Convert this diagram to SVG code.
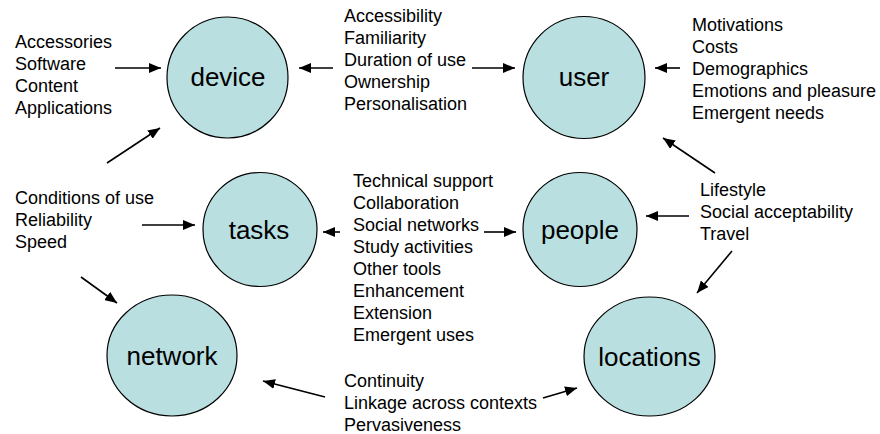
<svg xmlns="http://www.w3.org/2000/svg" width="880" height="434" viewBox="0 0 880 434">
<style>
.node{fill:#b9dfe1;stroke:#000;stroke-width:1.2}
.lbl{font-family:"Liberation Sans",Arial,sans-serif;font-size:26px;fill:#000;text-anchor:middle}
.t{font-family:"Liberation Sans",Arial,sans-serif;font-size:18px;fill:#000}
.c{stroke:#000;stroke-width:1.6;fill:none;marker-end:url(#ah)}
</style>
<defs>
<marker id="ah" markerUnits="userSpaceOnUse" markerWidth="12" markerHeight="10" viewBox="0 0 12 10" refX="12" refY="5" orient="auto">
<path d="M0,0 L12,5 L0,10 Z" fill="#000"/>
</marker>
</defs>
<rect width="880" height="434" fill="#fff"/>
<g id="device"><circle class="node" cx="227.5" cy="77.5" r="60.5"/><text class="lbl" x="228" y="86">device</text></g>
<g id="user"><circle class="node" cx="584" cy="77.5" r="61"/><text class="lbl" x="584" y="86">user</text></g>
<g id="tasks"><circle class="node" cx="260" cy="229.5" r="57"/><text class="lbl" x="259" y="239">tasks</text></g>
<g id="people"><circle class="node" cx="580" cy="229.5" r="57"/><text class="lbl" x="580" y="239">people</text></g>
<g id="network"><ellipse class="node" cx="172" cy="355.5" rx="65" ry="60.5"/><text class="lbl" x="172" y="365">network</text></g>
<g id="locations"><ellipse class="node" cx="649.5" cy="356.5" rx="65.5" ry="59.5"/><text class="lbl" x="649.5" y="366">locations</text></g>
<g id="labels">
<text class="t" x="15" y="48">Accessories</text>
<text class="t" x="15" y="70">Software</text>
<text class="t" x="15" y="92">Content</text>
<text class="t" x="15" y="114">Applications</text>
<text class="t" x="344" y="22">Accessibility</text>
<text class="t" x="344" y="44">Familiarity</text>
<text class="t" x="344" y="66">Duration of use</text>
<text class="t" x="344" y="88">Ownership</text>
<text class="t" x="344" y="110">Personalisation</text>
<text class="t" x="692" y="31">Motivations</text>
<text class="t" x="692" y="53">Costs</text>
<text class="t" x="692" y="75">Demographics</text>
<text class="t" x="692" y="97">Emotions and pleasure</text>
<text class="t" x="692" y="119">Emergent needs</text>
<text class="t" x="15" y="204">Conditions of use</text>
<text class="t" x="15" y="226">Reliability</text>
<text class="t" x="15" y="248">Speed</text>
<text class="t" x="353" y="187">Technical support</text>
<text class="t" x="353" y="209">Collaboration</text>
<text class="t" x="353" y="231">Social networks</text>
<text class="t" x="353" y="253">Study activities</text>
<text class="t" x="353" y="275">Other tools</text>
<text class="t" x="353" y="297">Enhancement</text>
<text class="t" x="353" y="319">Extension</text>
<text class="t" x="353" y="341">Emergent uses</text>
<text class="t" x="700" y="196">Lifestyle</text>
<text class="t" x="700" y="218">Social acceptability</text>
<text class="t" x="700" y="240">Travel</text>
<text class="t" x="344" y="387">Continuity</text>
<text class="t" x="344" y="409">Linkage across contexts</text>
<text class="t" x="344" y="431">Pervasiveness</text>
</g>
<g id="connectors">
<line class="c" x1="115" y1="68" x2="161" y2="68"/>
<line class="c" x1="107" y1="163" x2="160" y2="128"/>
<line class="c" x1="142" y1="225" x2="195" y2="225"/>
<line class="c" x1="81" y1="277" x2="117" y2="303"/>
<line class="c" x1="333" y1="68" x2="299" y2="68"/>
<line class="c" x1="472" y1="68" x2="515" y2="68"/>
<line class="c" x1="680" y1="68" x2="655" y2="68"/>
<line class="c" x1="715" y1="173" x2="663" y2="138"/>
<line class="c" x1="689" y1="216" x2="646" y2="216"/>
<line class="c" x1="732" y1="251" x2="697" y2="293"/>
<line class="c" x1="340" y1="232" x2="323" y2="232"/>
<line class="c" x1="484" y1="232" x2="516" y2="232"/>
<line class="c" x1="543" y1="398" x2="577" y2="388"/>
<line class="c" x1="325" y1="397" x2="263" y2="381"/>
</g>
</svg>
